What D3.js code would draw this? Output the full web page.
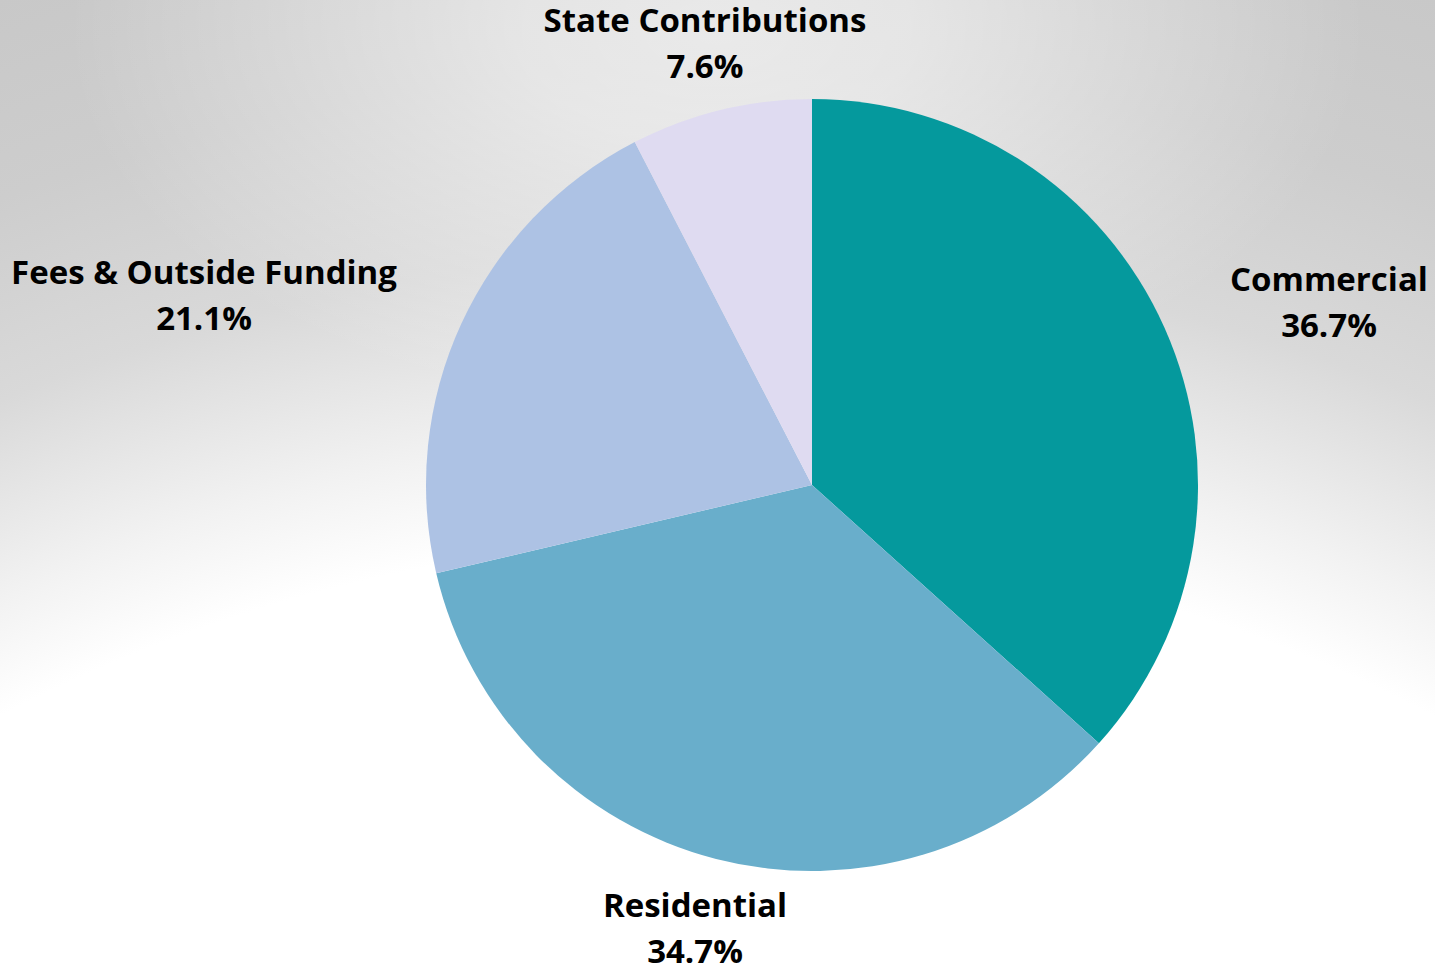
<!DOCTYPE html>
<html>
<head>
<meta charset="utf-8">
<script src="https://cdn.jsdelivr.net/npm/d3@7"></script>
<style>
  html, body { margin: 0; padding: 0; background: #fff; }
  svg { display: block; }
  text { font-family: "Open Sans", "Noto Sans", sans-serif; font-weight: 700; fill: #000; }
</style>
</head>
<body>
<svg id="chart" width="1435" height="965"></svg>
<script>
const categories = ["Commercial", "Residential", "Fees & Outside Funding", "State Contributions"];
const values = [36.7, 34.7, 21.1, 7.6];
const valueLabels = ["36.7%", "34.7%", "21.1%", "7.6%"];
const colors = ["#05999d", "#69aecb", "#adc2e4", "#dfdbf1"];

const W = 1435, H = 965;
const svg = d3.select("#chart");

// background: gray at top fading to white at the bottom, lighter at top centre
const defs = svg.append("defs");
const base = defs.append("radialGradient")
  .attr("id", "bg")
  .attr("gradientUnits", "userSpaceOnUse")
  .attr("cx", 717).attr("cy", 2087).attr("r", 2210)
  .attr("fx", 717).attr("fy", 2087);
[[0, "#ffffff"], [0.70, "#ffffff"], [0.747, "#f2f2f2"], [0.829, "#d9d9d9"], [0.914, "#cdcdcd"], [1, "#c8c8c8"]]
  .forEach(([o, c]) => base.append("stop").attr("offset", o).attr("stop-color", c));

const glow = defs.append("radialGradient")
  .attr("id", "glow")
  .attr("gradientUnits", "userSpaceOnUse")
  .attr("cx", 717).attr("cy", 30).attr("r", 650)
  .attr("gradientTransform", "translate(717,30) scale(1,0.6) translate(-717,-30)");
[[0, 0.58], [0.3, 0.5], [1, 0]]
  .forEach(([o, a]) => glow.append("stop").attr("offset", o).attr("stop-color", "#ffffff").attr("stop-opacity", a));

svg.append("rect").attr("width", W).attr("height", H).attr("fill", "url(#bg)");
svg.append("rect").attr("width", W).attr("height", H).attr("fill", "url(#glow)");

const cx = 812, cy = 485, R = 386;
const pie = d3.pie().sort(null).value(d => d.v);
const data = categories.map((c, i) => ({ name: c, v: values[i], label: valueLabels[i], color: colors[i] }));
const arcs = pie(data);
const arc = d3.arc().innerRadius(0).outerRadius(R);

const g = svg.append("g").attr("transform", `translate(${cx},${cy})`);
g.selectAll("path").data(arcs).join("path")
  .attr("d", arc)
  .attr("fill", d => d.data.color);

// label anchor positions (centre x, name baseline y)
const labelPos = {
  "Commercial": [1329, 291],
  "Residential": [695, 917],
  "Fees & Outside Funding": [204, 284],
  "State Contributions": [705, 32]
};
const lg = svg.append("g");
arcs.forEach(a => {
  const p = labelPos[a.data.name];
  const t = lg.append("text").attr("text-anchor", "middle").style("font-size", "33px");
  t.append("tspan").attr("x", p[0]).attr("y", p[1]).text(a.data.name);
  t.append("tspan").attr("x", p[0]).attr("y", p[1] + 46).text(a.data.label);
});
</script>
</body>
</html>
